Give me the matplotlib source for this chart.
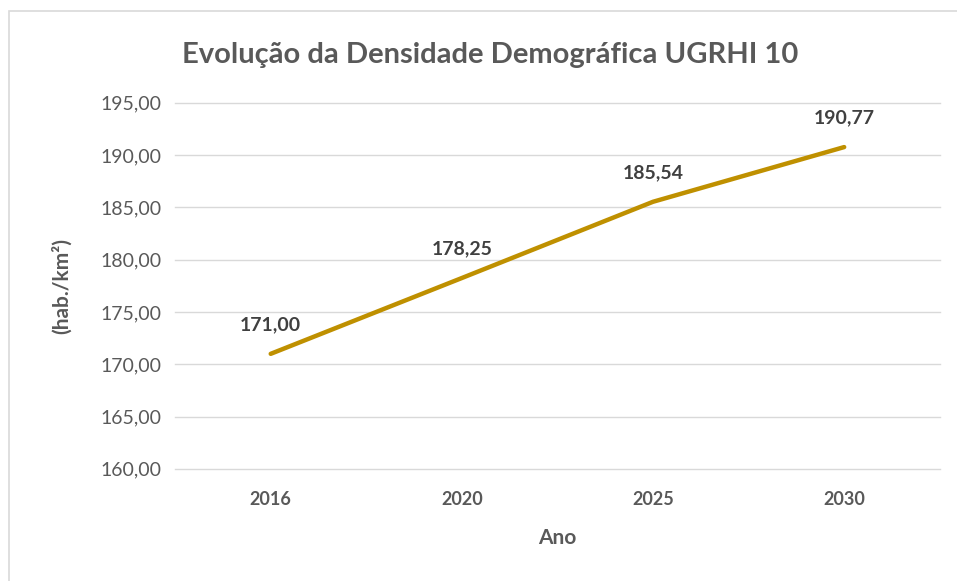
import matplotlib.pyplot as plt
from matplotlib.patches import Rectangle

anos = ['2016', '2020', '2025', '2030']
densidade = [171.00, 178.25, 185.54, 190.77]
y_ticks = [160, 165, 170, 175, 180, 185, 190, 195]

plt.rcParams['font.family'] = ['Lato', 'DejaVu Sans']
cinza = '#595959'

fig = plt.figure(figsize=(9.57, 5.81), dpi=100)
ax = fig.add_axes([0.183, 0.193, 0.799, 0.630])

# moldura do gráfico
fig.patches.append(Rectangle((9 / 957, -0.01), 1.0, 1 - 11 / 581 + 0.01, transform=fig.transFigure,
                             fill=False, edgecolor='#d9d9d9', linewidth=1.2))

x = range(len(anos))
ax.plot(x, densidade, color='#BF9000', linewidth=3.2, solid_capstyle='round')

for xi, v in zip(x, densidade):
    ax.annotate(f'{v:.2f}'.replace('.', ','), (xi, v), xytext=(0, 15), textcoords='offset points',
                ha='center', va='bottom', fontsize=14, fontweight='bold', color='#404040')

ax.set_xlim(-0.5, len(anos) - 0.5)
ax.set_ylim(160, 195)
ax.set_yticks(y_ticks)
ax.set_yticklabels([f'{t:.2f}'.replace('.', ',') for t in y_ticks], fontsize=14, color=cinza)
ax.set_xticks(list(x))
ax.set_xticklabels(anos, fontsize=13, fontweight='bold', color=cinza)
ax.tick_params(length=0, pad=10)
ax.tick_params(axis='x', pad=16)
ax.grid(axis='y', color='#d9d9d9', linewidth=1)
for gl in ax.get_ygridlines():
    gl.set_clip_on(False)
ax.set_axisbelow(True)
for s in ax.spines.values():
    s.set_visible(False)

ax.set_xlabel('Ano', fontsize=15, fontweight='bold', color=cinza, labelpad=14)
ax.set_ylabel('(hab./km²)', fontsize=15, fontweight='bold', color=cinza, labelpad=20)
fig.text(0.512, 0.905, 'Evolução da Densidade Demográfica UGRHI 10', ha='center', va='center',
         fontsize=21, fontweight='bold', color=cinza)

fig.savefig('out.png', dpi=100)
